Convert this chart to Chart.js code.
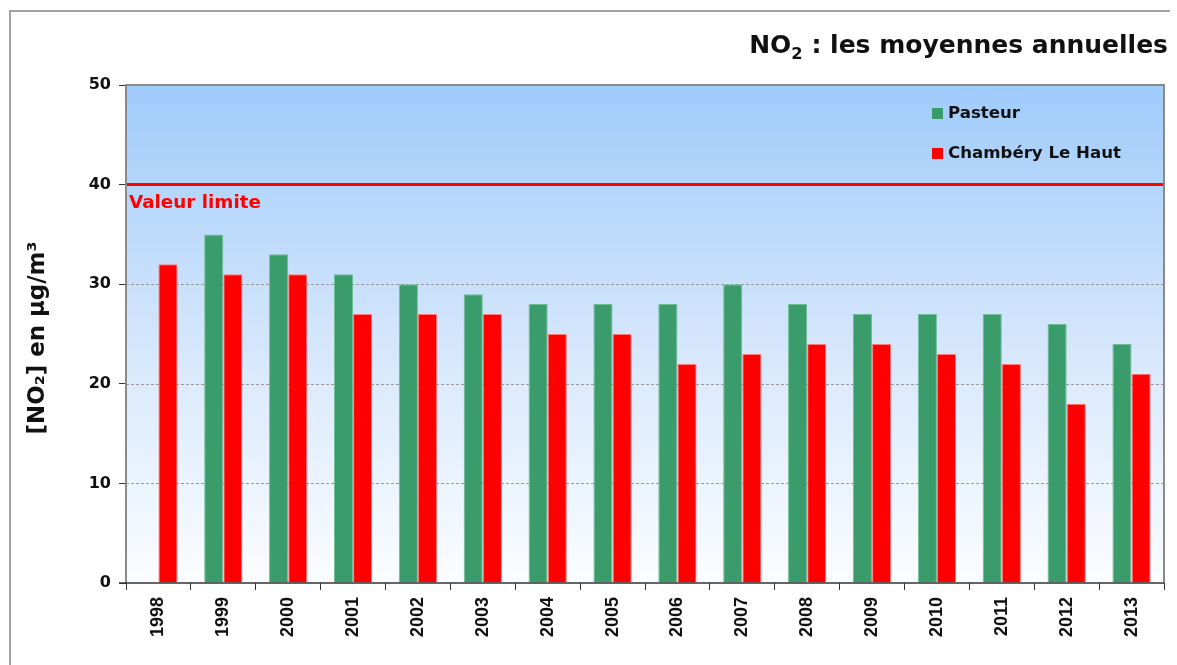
<!DOCTYPE html>
<html>
<head>
<meta charset="utf-8">
<script src="https://cdn.jsdelivr.net/npm/chart.js@4.4.1/dist/chart.umd.min.js"></script>
<style>
  html, body { margin: 0; padding: 0; background: #fff; overflow: hidden; }
  #wrap { width: 1177px; height: 665px; }
</style>
</head>
<body>
<div id="wrap"><canvas id="chart" width="1177" height="665"></canvas></div>
<script>
const years = ['1998', '1999', '2000', '2001', '2002', '2003', '2004', '2005',
  '2006', '2007', '2008', '2009', '2010', '2011', '2012', '2013'];
const pasteur = [null, 35, 33, 31, 30, 29, 28, 28, 28, 30, 28, 27, 27, 27, 26, 24];
const chamberyLeHaut = [32, 31, 31, 27, 27, 27, 25, 25, 22, 23, 24, 24, 23, 22, 18, 21];
const yTicks = [0, 10, 20, 30, 40, 50];
const limitValue = 40;

const COLORS = {
  green: '#3a9c6b',
  red: '#ff0000',
  text: '#111111',
  grid: '#9a9a9a',
  frame: '#8a8a8a'
};
const FONT = '"DejaVu Sans", Lato, sans-serif';

// font size that makes text span the given width
function fitSize(ctx, text, targetWidth) {
  ctx.font = `bold 20px ${FONT}`;
  return 20 * targetWidth / ctx.measureText(text).width;
}

const backdrop = {
  id: 'backdrop',
  beforeDatasetsDraw(chart) {
    const { ctx, chartArea: a } = chart;
    ctx.save();
    const g = ctx.createLinearGradient(0, a.top, 0, a.bottom);
    g.addColorStop(0, '#9fcbfb');
    g.addColorStop(0.55, '#d8e8fc');
    g.addColorStop(1, '#fbfdff');
    ctx.fillStyle = g;
    ctx.fillRect(a.left, a.top, a.right - a.left, a.bottom - a.top);

    const y = chart.scales.y;
    ctx.strokeStyle = COLORS.grid;
    ctx.lineWidth = 1;
    ctx.setLineDash([3, 2]);
    [10, 20, 30].forEach(v => {
      const py = Math.round(y.getPixelForValue(v)) + 0.5;
      ctx.beginPath();
      ctx.moveTo(a.left, py);
      ctx.lineTo(a.right, py);
      ctx.stroke();
    });
    ctx.setLineDash([]);
    ctx.restore();
  },
  afterDatasetsDraw(chart) {
    const { ctx, chartArea: a } = chart;
    const y = chart.scales.y;
    ctx.save();
    // limit line
    const ly = y.getPixelForValue(limitValue);
    ctx.strokeStyle = COLORS.red;
    ctx.lineWidth = 3;
    ctx.beginPath();
    ctx.moveTo(a.left, ly);
    ctx.lineTo(a.right, ly);
    ctx.stroke();

    ctx.fillStyle = COLORS.red;
    ctx.font = `bold ${fitSize(ctx, 'Valeur limite', 132)}px ${FONT}`;
    ctx.textBaseline = 'middle';
    ctx.textAlign = 'left';
    ctx.fillText('Valeur limite', a.left + 3, ly + 19);

    // plot frame
    ctx.strokeStyle = COLORS.frame;
    ctx.lineWidth = 2;
    ctx.beginPath();
    ctx.moveTo(a.left, a.bottom);
    ctx.lineTo(a.left, a.top);
    ctx.lineTo(a.right, a.top);
    ctx.lineTo(a.right, a.bottom);
    ctx.stroke();
    ctx.strokeStyle = '#333';
    ctx.lineWidth = 1.5;
    ctx.beginPath();
    ctx.moveTo(a.left - 7, a.bottom);
    ctx.lineTo(a.right, a.bottom);
    ctx.stroke();

    // legend
    const items = [
      { label: 'Pasteur', color: COLORS.green, y: 113 },
      { label: 'Chambéry Le Haut', color: COLORS.red, y: 153 }
    ];
    ctx.font = `bold ${fitSize(ctx, 'Chambéry Le Haut', 173)}px ${FONT}`;
    ctx.textBaseline = 'middle';
    items.forEach(it => {
      ctx.fillStyle = it.color;
      ctx.fillRect(932, it.y - 5, 11, 11);
      ctx.fillStyle = COLORS.text;
      ctx.fillText(it.label, 948, it.y + 1);
    });

    // page frame (left and top edges only)
    ctx.strokeStyle = '#a0a0a0';
    ctx.lineWidth = 2;
    ctx.beginPath();
    ctx.moveTo(10, 665);
    ctx.lineTo(10, 11);
    ctx.lineTo(1170, 11);
    ctx.stroke();

    // title with subscript
    ctx.fillStyle = COLORS.text;
    ctx.textBaseline = 'alphabetic';
    const rest = ' : les moyennes annuelles';
    const size = fitSize(ctx, 'NO2' + rest, 425);
    const main = `bold ${size}px ${FONT}`;
    const sub = `bold ${size * 0.65}px ${FONT}`;
    ctx.font = main;
    const wNO = ctx.measureText('NO').width;
    const wRest = ctx.measureText(rest).width;
    ctx.font = sub;
    const w2 = ctx.measureText('2').width;
    let x = 1168 - (wNO + w2 + wRest);
    const base = 53;
    ctx.font = main;
    ctx.fillText('NO', x, base);
    x += wNO;
    ctx.font = sub;
    ctx.fillText('2', x, base + 6);
    x += w2;
    ctx.font = main;
    ctx.fillText(rest, x, base);

    // y axis title
    ctx.translate(38, 338);
    ctx.rotate(-Math.PI / 2);
    ctx.textAlign = 'center';
    ctx.textBaseline = 'middle';
    ctx.font = `bold ${fitSize(ctx, '[NO₂] en µg/m³', 193)}px ${FONT}`;
    ctx.fillText('[NO₂] en µg/m³', 0, 0);
    ctx.restore();
  }
};

new Chart(document.getElementById('chart').getContext('2d'), {
  type: 'bar',
  data: {
    labels: years,
    datasets: [
      {
        label: 'Pasteur',
        data: pasteur,
        backgroundColor: COLORS.green,
        borderColor: '#6fbb95',
        borderWidth: 1,
        categoryPercentage: 0.59,
        barPercentage: 1
      },
      {
        label: 'Chambéry Le Haut',
        data: chamberyLeHaut,
        backgroundColor: COLORS.red,
        borderColor: '#ff7a7a',
        borderWidth: 1,
        categoryPercentage: 0.59,
        barPercentage: 1
      }
    ]
  },
  options: {
    responsive: false,
    animation: false,
    devicePixelRatio: 1,
    layout: { padding: { top: 85, right: 13, left: 0, bottom: 0 } },
    plugins: {
      legend: { display: false },
      title: { display: false },
      tooltip: { enabled: false }
    },
    scales: {
      x: {
        afterFit: (s) => { s.height = 82; },
        grid: {
          display: true,
          drawOnChartArea: false,
          drawTicks: true,
          tickLength: 7,
          tickColor: '#333',
          offset: true
        },
        border: { display: false },
        ticks: {
          color: COLORS.text,
          minRotation: 90,
          maxRotation: 90,
          padding: 7,
          font: { family: '"Liberation Sans", Arial, sans-serif', size: 18, weight: 'bold' }
        }
      },
      y: {
        min: 0,
        max: 50,
        afterFit: (s) => { s.width = 126; },
        afterBuildTicks: (s) => { s.ticks = yTicks.map(v => ({ value: v })); },
        grid: {
          drawOnChartArea: false,
          drawTicks: true,
          tickLength: 7,
          tickColor: '#333'
        },
        border: { display: false },
        ticks: {
          color: COLORS.text,
          padding: 8,
          font: { family: FONT, size: 16, weight: 'bold' }
        }
      }
    }
  },
  plugins: [backdrop]
});
</script>
</body>
</html>
